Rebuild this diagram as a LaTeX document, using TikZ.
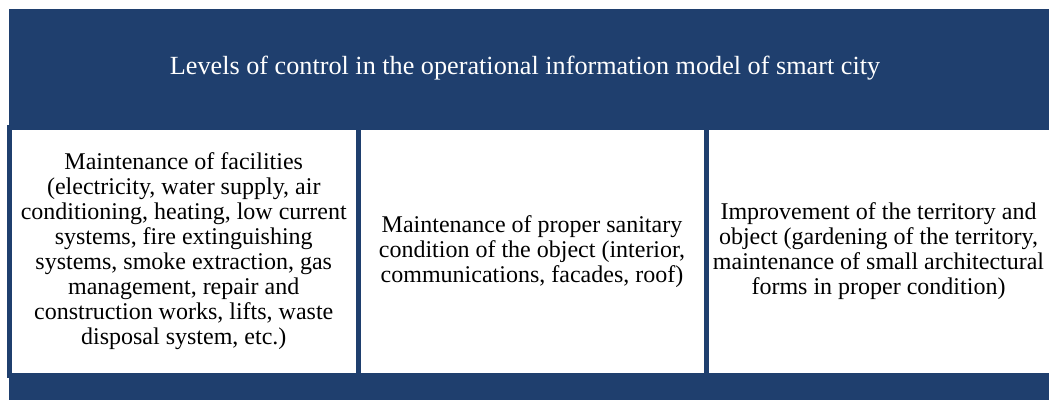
\documentclass[tikz,border=0pt]{standalone}
\usepackage{fontspec}
\setmainfont{Liberation Serif}
\usepackage{tikz}

\definecolor{cityblue}{RGB}{31,63,110}

\begin{document}
\begin{tikzpicture}[x=1pt,y=-1pt,
    level/.style={draw=cityblue,fill=white,line width=5pt,minimum height=248pt,
      inner sep=0pt,align=center,font=\fontsize{24}{25}\selectfont}]

      \useasboundingbox (0,0) rectangle (1049,400);
      \fill[cityblue] (9,9) rectangle (1049,400);

      \node[text=white,font=\fontsize{26.2}{27}\selectfont] (title) at (525,68.5){Levels of control in the operational information model of smart city};

      \node[level,minimum width=348.5pt] (facil) at (183.75,251.5){Maintenance of facilities\\(electricity, water supply, air\\conditioning, heating, low current\\systems, fire extinguishing\\systems, smoke extraction, gas\\management, repair and\\construction works, lifts, waste\\disposal system, etc.)};
      \node[level,minimum width=348pt] (sanit) at (532,251.5){Maintenance of proper sanitary\\condition of the object (interior,\\communications, facades, roof)};
      \node[level,minimum width=345pt] (improv) at (878.5,251.5){Improvement of the territory and\\object (gardening of the territory,\\maintenance of small architectural\\forms in proper condition)};
    \end{tikzpicture}
\end{document}
